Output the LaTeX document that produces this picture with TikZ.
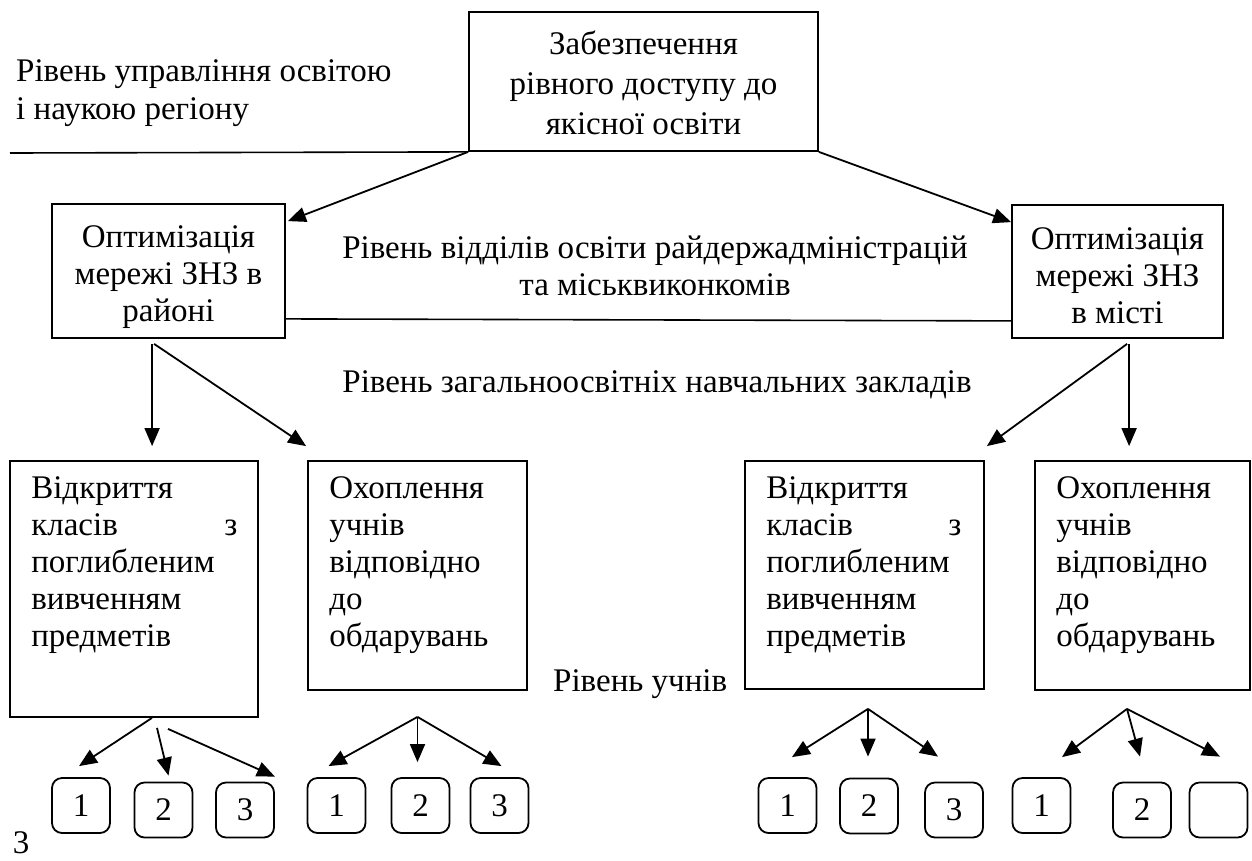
\documentclass[tikz,border=0pt]{standalone}
\usepackage{fontspec}
\setmainfont{Liberation Serif}
\usetikzlibrary{arrows.meta,calc}
\tikzset{
  box/.style={draw, line width=1.8pt, inner sep=0pt},
  txt/.style={inner sep=0pt, font=\fontsize{33}{37}\selectfont, align=center},
  arr/.style={line width=1.8pt, -{Triangle[length=18pt,width=15pt]}},
  plain/.style={line width=1.6pt},
  sbox/.style={draw, line width=1.8pt, rounded corners=10pt, minimum width=58pt,
    minimum height=55pt, inner sep=0pt, font=\fontsize{33}{37}\selectfont},
  inlbl/.style={inner sep=0pt, font=\fontsize{33}{37}\selectfont, align=left,
    anchor=north west, xshift=22pt, yshift=-16pt},
  inctr/.style={txt, anchor=center},
}
\begin{document}
\begin{tikzpicture}[x=1pt,y=-1pt]
\useasboundingbox (0,0) rectangle (1252,860);

% top level
\node[box, minimum width=349pt, minimum height=139pt,
  label={[inctr, font=\fontsize{33}{40}\selectfont, yshift=-1pt]center:{Забезпечення\\рівного доступу до\\якісної освіти}}] (top) at (643.5,81.5) {};
\node[txt, align=left, anchor=west, font=\fontsize{33}{38}\selectfont] (lvl1) at (16,93) {Рівень управління освітою\\і наукою регіону};
\coordinate (l1) at (10,153);
\draw[plain] (l1) -- (top.south west);

% middle level
\node[box, minimum width=233pt, minimum height=134pt,
  label={[inctr, yshift=-6pt]center:{Оптимізація\\мережі ЗНЗ в\\районі}}] (LM) at (168.5,271) {};
\node[box, minimum width=211pt, minimum height=133pt,
  label={[inctr, yshift=-4pt]center:{Оптимізація\\мережі ЗНЗ\\в місті}}] (RM) at (1117.5,271.5) {};
\node[txt] (lvl2) at (655,266) {Рівень відділів освіти райдержадміністрацій\\та міськвиконкомів};
\draw[arr] (top.south west) -- ($(LM.north east)+(2,18)$);
\draw[arr] (top.south east) -- ($(RM.north west)+(0,18)$);
\draw[plain] ($(LM.south east)+(0,-20)$) -- ($(RM.south west)+(0,-18)$);

\node[txt] (lvl3) at (657,385) {Рівень загальноосвітніх навчальних закладів};

% school level boxes
\node[box, minimum width=248pt, minimum height=256pt,
  label={[inlbl, text width=206pt]north west:{Відкриття\\класів\hfill з\\поглибленим\\вивченням\\предметів}}] (LB1) at (134,589) {};
\node[box, minimum width=219pt, minimum height=229pt,
  label={[inlbl, text width=190pt]north west:{Охоплення\\учнів\\відповідно\\до\\обдарувань}}] (LB2) at (417.5,575.5) {};
\node[box, minimum width=239pt, minimum height=228pt,
  label={[inlbl, text width=195pt]north west:{Відкриття\\класів\hfill з\\поглибленим\\вивченням\\предметів}}] (RB1) at (864.5,575) {};
\node[box, minimum width=215pt, minimum height=229pt,
  label={[inlbl, text width=190pt]north west:{Охоплення\\учнів\\відповідно\\до\\обдарувань}}] (RB2) at (1142.5,575.5) {};

\draw[arr] ($(LM.south west)+(101,5)$) -- ($(LB1.north west)+(143,-14)$);
\draw[arr] ($(LM.south west)+(103,5)$) -- ($(LB2.north west)+(-1,-14)$);
\draw[arr] ($(RM.south west)+(116,5)$) -- ($(RB1.north east)+(2,-14)$);
\draw[arr] ($(RM.south west)+(118,5)$) -- ($(RB2.north west)+(95,-14)$);

\node[txt, anchor=west] (lvl4) at (553,684) {Рівень учнів};

% pupils level
\node[sbox] (s1) at (81,805.5) {1};
\node[sbox] (s2) at (163.5,810) {2};
\node[sbox] (s3) at (245,810) {3};
\node[sbox] (s4) at (336.5,805.5) {1};
\node[sbox] (s5) at (420.5,805.5) {2};
\node[sbox] (s6) at (499.5,805.5) {3};
\node[sbox] (r1) at (787.5,805.5) {1};
\node[sbox] (r2) at (869,806) {2};
\node[sbox] (r3) at (954,810) {3};
\node[sbox] (r4) at (1041.5,805.5) {1};
\node[sbox] (r5) at (1142,810) {2};
\node[sbox] (r6) at (1218.5,810) {};

\draw[arr] ($(LB1.south)+(18,0)$) -- ($(s1.north)+(-2,-11)$);
\draw[arr] ($(LB1.south)+(23,10)$) -- ($(s2.north)+(5,-6)$);
\draw[arr] ($(LB1.south)+(34,11)$) -- ($(s3.north east)+(0,-5)$);

\coordinate (ap2) at ($(LB2.south)+(0,26)$);
\draw[arr] (ap2) -- ($(s4.north)+(-8,-11)$);
\draw[arr] (ap2) -- ($(s5.north)+(-3,-15)$);
\draw[arr] (ap2) -- ($(s6.north)+(2,-11)$);

\coordinate (ap3) at ($(RB1.south)+(3.5,19)$);
\draw[arr] (ap3) -- ($(r1.north)+(4.5,-20)$);
\draw[arr] (ap3) -- ($(r2.north)+(-1,-21)$);
\draw[arr] (ap3) -- ($(r3.north)+(-16,-25)$);

\coordinate (ap4) at ($(RB2.south)+(-15.5,18)$);
\draw[arr] (ap4) -- ($(r4.north)+(20.5,-20)$);
\draw[arr] (ap4) -- ($(r5.north)+(-2,-25)$);
\draw[arr] (ap4) -- ($(r6.north)+(1.5,-25)$);

\node[txt] (pg) at (21,843) {3};
\end{tikzpicture}
\end{document}
